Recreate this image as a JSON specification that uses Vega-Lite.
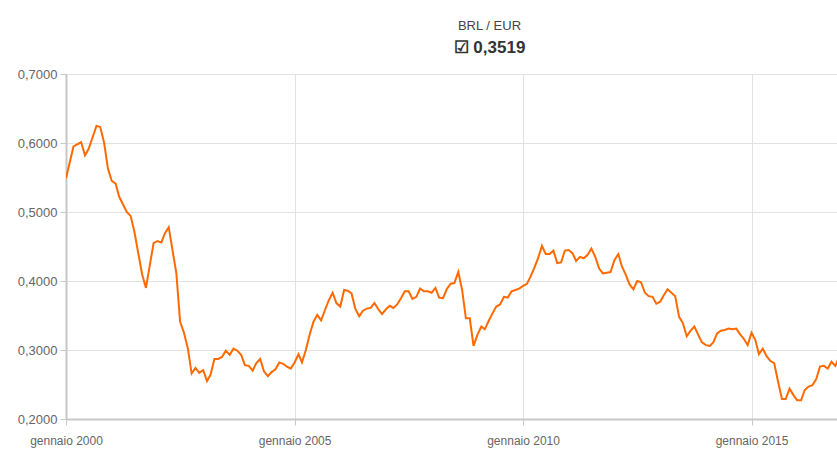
{
  "$schema": "https://vega.github.io/schema/vega-lite/v6.json",
  "width": 771,
  "height": 345,
  "autosize": {"type": "none"},
  "padding": {"left": 66, "top": 74, "right": 0, "bottom": 37},
  "background": "white",
  "title": {
    "text": "BRL / EUR",
    "subtitle": "☑ 0,3519",
    "anchor": "middle",
    "dx": 38,
    "font": "Liberation Sans, sans-serif",
    "fontSize": 13,
    "fontWeight": "normal",
    "color": "#444444",
    "subtitleFont": "Liberation Sans, sans-serif",
    "subtitleFontSize": 17,
    "subtitleFontWeight": "bold",
    "subtitleColor": "#333333",
    "subtitlePadding": 7,
    "offset": 12
  },
  "config": {
    "view": {"stroke": null},
    "axis": {
      "labelFont": "Liberation Sans, sans-serif",
      "labelFontSize": 13,
      "labelColor": "#666666",
      "domainColor": "#c8c8c8",
      "domainWidth": 2,
      "tickColor": "#c8c8c8",
      "tickWidth": 1,
      "tickSize": 6,
      "gridColor": "#e2e2e2",
      "gridWidth": 1
    }
  },
  "data": {
    "values": [
      {"date": "2000-01-01", "rate": 0.549},
      {"date": "2000-03-01", "rate": 0.595},
      {"date": "2000-05-01", "rate": 0.601},
      {"date": "2000-06-01", "rate": 0.582},
      {"date": "2000-07-01", "rate": 0.592},
      {"date": "2000-09-01", "rate": 0.625},
      {"date": "2000-10-01", "rate": 0.623},
      {"date": "2000-11-01", "rate": 0.600},
      {"date": "2000-12-01", "rate": 0.563},
      {"date": "2001-01-01", "rate": 0.545},
      {"date": "2001-02-01", "rate": 0.541},
      {"date": "2001-03-01", "rate": 0.522},
      {"date": "2001-05-01", "rate": 0.500},
      {"date": "2001-06-01", "rate": 0.494},
      {"date": "2001-07-01", "rate": 0.471},
      {"date": "2001-09-01", "rate": 0.409},
      {"date": "2001-10-01", "rate": 0.390},
      {"date": "2001-11-01", "rate": 0.423},
      {"date": "2001-12-01", "rate": 0.455},
      {"date": "2002-01-01", "rate": 0.458},
      {"date": "2002-02-01", "rate": 0.456},
      {"date": "2002-03-01", "rate": 0.469},
      {"date": "2002-04-01", "rate": 0.478},
      {"date": "2002-06-01", "rate": 0.411},
      {"date": "2002-07-01", "rate": 0.341},
      {"date": "2002-08-01", "rate": 0.325},
      {"date": "2002-09-01", "rate": 0.302},
      {"date": "2002-10-01", "rate": 0.266},
      {"date": "2002-11-01", "rate": 0.274},
      {"date": "2002-12-01", "rate": 0.267},
      {"date": "2003-01-01", "rate": 0.271},
      {"date": "2003-02-01", "rate": 0.255},
      {"date": "2003-03-01", "rate": 0.264},
      {"date": "2003-04-01", "rate": 0.287},
      {"date": "2003-05-01", "rate": 0.287},
      {"date": "2003-06-01", "rate": 0.290},
      {"date": "2003-07-01", "rate": 0.299},
      {"date": "2003-08-01", "rate": 0.293},
      {"date": "2003-09-01", "rate": 0.302},
      {"date": "2003-10-01", "rate": 0.299},
      {"date": "2003-11-01", "rate": 0.293},
      {"date": "2003-12-01", "rate": 0.278},
      {"date": "2004-01-01", "rate": 0.277},
      {"date": "2004-02-01", "rate": 0.270},
      {"date": "2004-03-01", "rate": 0.281},
      {"date": "2004-04-01", "rate": 0.287},
      {"date": "2004-05-01", "rate": 0.269},
      {"date": "2004-06-01", "rate": 0.262},
      {"date": "2004-07-01", "rate": 0.268},
      {"date": "2004-08-01", "rate": 0.272},
      {"date": "2004-09-01", "rate": 0.282},
      {"date": "2004-10-01", "rate": 0.280},
      {"date": "2004-11-01", "rate": 0.276},
      {"date": "2004-12-01", "rate": 0.273},
      {"date": "2005-01-01", "rate": 0.282},
      {"date": "2005-02-01", "rate": 0.294},
      {"date": "2005-03-01", "rate": 0.282},
      {"date": "2005-04-01", "rate": 0.300},
      {"date": "2005-05-01", "rate": 0.322},
      {"date": "2005-06-01", "rate": 0.341},
      {"date": "2005-07-01", "rate": 0.351},
      {"date": "2005-08-01", "rate": 0.343},
      {"date": "2005-09-01", "rate": 0.358},
      {"date": "2005-10-01", "rate": 0.372},
      {"date": "2005-11-01", "rate": 0.383},
      {"date": "2005-12-01", "rate": 0.368},
      {"date": "2006-01-01", "rate": 0.363},
      {"date": "2006-02-01", "rate": 0.387},
      {"date": "2006-03-01", "rate": 0.386},
      {"date": "2006-04-01", "rate": 0.382},
      {"date": "2006-05-01", "rate": 0.360},
      {"date": "2006-06-01", "rate": 0.349},
      {"date": "2006-07-01", "rate": 0.357},
      {"date": "2006-08-01", "rate": 0.360},
      {"date": "2006-09-01", "rate": 0.361},
      {"date": "2006-10-01", "rate": 0.368},
      {"date": "2006-11-01", "rate": 0.359},
      {"date": "2006-12-01", "rate": 0.352},
      {"date": "2007-01-01", "rate": 0.359},
      {"date": "2007-02-01", "rate": 0.364},
      {"date": "2007-03-01", "rate": 0.361},
      {"date": "2007-04-01", "rate": 0.366},
      {"date": "2007-05-01", "rate": 0.375},
      {"date": "2007-06-01", "rate": 0.385},
      {"date": "2007-07-01", "rate": 0.385},
      {"date": "2007-08-01", "rate": 0.374},
      {"date": "2007-09-01", "rate": 0.377},
      {"date": "2007-10-01", "rate": 0.389},
      {"date": "2007-11-01", "rate": 0.385},
      {"date": "2007-12-01", "rate": 0.385},
      {"date": "2008-01-01", "rate": 0.383},
      {"date": "2008-02-01", "rate": 0.390},
      {"date": "2008-03-01", "rate": 0.376},
      {"date": "2008-04-01", "rate": 0.375},
      {"date": "2008-05-01", "rate": 0.388},
      {"date": "2008-06-01", "rate": 0.396},
      {"date": "2008-07-01", "rate": 0.397},
      {"date": "2008-08-01", "rate": 0.413},
      {"date": "2008-09-01", "rate": 0.387},
      {"date": "2008-10-01", "rate": 0.346},
      {"date": "2008-11-01", "rate": 0.346},
      {"date": "2008-12-01", "rate": 0.306},
      {"date": "2009-01-01", "rate": 0.322},
      {"date": "2009-02-01", "rate": 0.334},
      {"date": "2009-03-01", "rate": 0.330},
      {"date": "2009-04-01", "rate": 0.342},
      {"date": "2009-05-01", "rate": 0.353},
      {"date": "2009-06-01", "rate": 0.363},
      {"date": "2009-07-01", "rate": 0.366},
      {"date": "2009-08-01", "rate": 0.377},
      {"date": "2009-09-01", "rate": 0.376},
      {"date": "2009-10-01", "rate": 0.385},
      {"date": "2009-11-01", "rate": 0.387},
      {"date": "2009-12-01", "rate": 0.389},
      {"date": "2010-01-01", "rate": 0.393},
      {"date": "2010-02-01", "rate": 0.396},
      {"date": "2010-03-01", "rate": 0.406},
      {"date": "2010-04-01", "rate": 0.419},
      {"date": "2010-05-01", "rate": 0.433},
      {"date": "2010-06-01", "rate": 0.451},
      {"date": "2010-07-01", "rate": 0.439},
      {"date": "2010-08-01", "rate": 0.439},
      {"date": "2010-09-01", "rate": 0.444},
      {"date": "2010-10-01", "rate": 0.426},
      {"date": "2010-11-01", "rate": 0.427},
      {"date": "2010-12-01", "rate": 0.444},
      {"date": "2011-01-01", "rate": 0.445},
      {"date": "2011-02-01", "rate": 0.440},
      {"date": "2011-03-01", "rate": 0.429},
      {"date": "2011-04-01", "rate": 0.435},
      {"date": "2011-05-01", "rate": 0.433},
      {"date": "2011-06-01", "rate": 0.438},
      {"date": "2011-07-01", "rate": 0.447},
      {"date": "2011-08-01", "rate": 0.435},
      {"date": "2011-09-01", "rate": 0.418},
      {"date": "2011-10-01", "rate": 0.411},
      {"date": "2011-11-01", "rate": 0.412},
      {"date": "2011-12-01", "rate": 0.413},
      {"date": "2012-01-01", "rate": 0.430},
      {"date": "2012-02-01", "rate": 0.439},
      {"date": "2012-03-01", "rate": 0.421},
      {"date": "2012-04-01", "rate": 0.409},
      {"date": "2012-05-01", "rate": 0.395},
      {"date": "2012-06-01", "rate": 0.388},
      {"date": "2012-07-01", "rate": 0.400},
      {"date": "2012-08-01", "rate": 0.398},
      {"date": "2012-09-01", "rate": 0.383},
      {"date": "2012-10-01", "rate": 0.378},
      {"date": "2012-11-01", "rate": 0.377},
      {"date": "2012-12-01", "rate": 0.367},
      {"date": "2013-01-01", "rate": 0.370},
      {"date": "2013-02-01", "rate": 0.380},
      {"date": "2013-03-01", "rate": 0.388},
      {"date": "2013-04-01", "rate": 0.383},
      {"date": "2013-05-01", "rate": 0.378},
      {"date": "2013-06-01", "rate": 0.348},
      {"date": "2013-07-01", "rate": 0.339},
      {"date": "2013-08-01", "rate": 0.320},
      {"date": "2013-09-01", "rate": 0.328},
      {"date": "2013-10-01", "rate": 0.334},
      {"date": "2013-11-01", "rate": 0.322},
      {"date": "2013-12-01", "rate": 0.311},
      {"date": "2014-01-01", "rate": 0.307},
      {"date": "2014-02-01", "rate": 0.306},
      {"date": "2014-03-01", "rate": 0.311},
      {"date": "2014-04-01", "rate": 0.324},
      {"date": "2014-05-01", "rate": 0.328},
      {"date": "2014-06-01", "rate": 0.329},
      {"date": "2014-07-01", "rate": 0.331},
      {"date": "2014-08-01", "rate": 0.330},
      {"date": "2014-09-01", "rate": 0.331},
      {"date": "2014-10-01", "rate": 0.323},
      {"date": "2014-11-01", "rate": 0.316},
      {"date": "2014-12-01", "rate": 0.307},
      {"date": "2015-01-01", "rate": 0.325},
      {"date": "2015-02-01", "rate": 0.314},
      {"date": "2015-03-01", "rate": 0.294},
      {"date": "2015-04-01", "rate": 0.302},
      {"date": "2015-05-01", "rate": 0.291},
      {"date": "2015-06-01", "rate": 0.284},
      {"date": "2015-07-01", "rate": 0.281},
      {"date": "2015-08-01", "rate": 0.254},
      {"date": "2015-09-01", "rate": 0.229},
      {"date": "2015-10-01", "rate": 0.229},
      {"date": "2015-11-01", "rate": 0.244},
      {"date": "2015-12-01", "rate": 0.235},
      {"date": "2016-01-01", "rate": 0.227},
      {"date": "2016-02-01", "rate": 0.227},
      {"date": "2016-03-01", "rate": 0.242},
      {"date": "2016-04-01", "rate": 0.247},
      {"date": "2016-05-01", "rate": 0.249},
      {"date": "2016-06-01", "rate": 0.258},
      {"date": "2016-07-01", "rate": 0.276},
      {"date": "2016-08-01", "rate": 0.277},
      {"date": "2016-09-01", "rate": 0.273},
      {"date": "2016-10-01", "rate": 0.283},
      {"date": "2016-11-01", "rate": 0.277},
      {"date": "2016-12-01", "rate": 0.290}
    ]
  },
  "mark": {"type": "line", "color": "#ff6a00", "strokeWidth": 2, "clip": true, "interpolate": "linear"},
  "encoding": {
    "x": {
      "field": "date",
      "type": "temporal",
      "scale": {"type": "utc", "domain": [{"year": 2000, "month": 1, "date": 1, "utc": true}, {"year": 2016, "month": 11, "date": 14, "utc": true}], "nice": false},
      "axis": {
        "title": null,
        "values": [
          {"year": 2000, "month": 1, "date": 1, "utc": true},
          {"year": 2005, "month": 1, "date": 1, "utc": true},
          {"year": 2010, "month": 1, "date": 1, "utc": true},
          {"year": 2015, "month": 1, "date": 1, "utc": true}
        ],
        "labelExpr": "'gennaio ' + utcFormat(datum.value, '%Y')",
        "labelFontSize": 12,
        "labelPadding": 10,
        "labelFlush": false,
        "labelOverlap": false
      }
    },
    "y": {
      "field": "rate",
      "type": "quantitative",
      "scale": {"domain": [0.2, 0.7], "nice": false, "zero": false},
      "axis": {
        "title": null,
        "values": [0.2, 0.3, 0.4, 0.5, 0.6, 0.7],
        "labelExpr": "replace(format(datum.value, '.4f'), '.', ',')",
        "labelPadding": 3
      }
    }
  }
}
